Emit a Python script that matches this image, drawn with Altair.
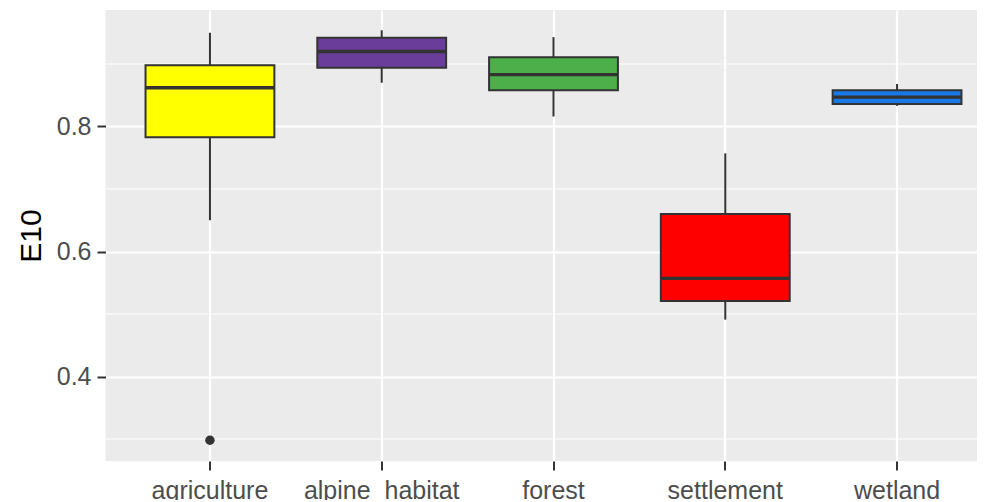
import altair as alt
import pandas as pd

# ---- data ----
categories = ["agriculture", "alpine_habitat", "forest", "settlement", "wetland"]
lower = [0.650, 0.870, 0.816, 0.491, 0.833]
q1 = [0.783, 0.894, 0.858, 0.521, 0.836]
median = [0.862, 0.920, 0.883, 0.557, 0.847]
q3 = [0.898, 0.942, 0.911, 0.660, 0.858]
upper = [0.950, 0.954, 0.943, 0.757, 0.868]
fill_colors = ["#FFFF00", "#6A3D9A", "#4DAF4A", "#FF0000", "#1A78E6"]

outlier_cat = ["agriculture"]
outlier_val = [0.298]

major_breaks = [0.4, 0.6, 0.8]
minor_breaks = [0.3, 0.5, 0.7, 0.9]

y_domain = [0.2648, 0.9864]

box_df = pd.DataFrame({
    "cat": categories, "lower": lower, "q1": q1, "median": median,
    "q3": q3, "upper": upper,
})
out_df = pd.DataFrame({"cat": outlier_cat, "val": outlier_val})
minor_df = pd.DataFrame({"v": minor_breaks})

W = 871.5
H = 451
FONT = "Liberation Sans"

x_scale = alt.Scale(domain=categories, range=[0, 896], paddingInner=0, paddingOuter=0.108)
x_axis = alt.Axis(title=None, bandPosition=0.5, labelPadding=8, tickSize=9, labelAngle=0)
x_enc = alt.X("cat:N", sort=categories, scale=x_scale, axis=x_axis)

y_scale = alt.Scale(domain=y_domain, nice=False, zero=False)
y_axis = alt.Axis(
    values=major_breaks, format=".1f", title="E10", tickSize=8.5, labelPadding=6,
    titlePadding=10, titleFontSize=30, titleColor="#000000", titleFontWeight="normal",
    titleFont=FONT,
)

# first layer carries the y axis
minor = alt.Chart(minor_df).mark_rule(color="#FFFFFF", strokeWidth=1.1).encode(
    y=alt.Y("v:Q", scale=y_scale, axis=y_axis)
)

base = alt.Chart(box_df)
color_enc = alt.Color("cat:N", scale=alt.Scale(domain=categories, range=fill_colors), legend=None)

whisk_hi = base.mark_rule(color="#333333", strokeWidth=2).encode(
    x=x_enc, y=alt.Y("q3:Q", scale=y_scale, axis=y_axis), y2="upper:Q"
)
whisk_lo = base.mark_rule(color="#333333", strokeWidth=2).encode(
    x=x_enc, y=alt.Y("lower:Q", scale=y_scale, axis=y_axis), y2="q1:Q"
)
boxes = base.mark_bar(
    width=alt.RelativeBandSize(0.75), stroke="#333333", strokeWidth=2
).encode(
    x=x_enc, y=alt.Y("q1:Q", scale=y_scale, axis=y_axis), y2="q3:Q", fill=color_enc
)
medians = base.mark_bar(
    width=alt.RelativeBandSize(0.75), stroke="#333333", strokeWidth=3.3, fill="#333333"
).encode(
    x=x_enc, y=alt.Y("median:Q", scale=y_scale, axis=y_axis), y2="median:Q"
)
outliers = alt.Chart(out_df).mark_circle(size=90, color="#333333", opacity=1).encode(
    x=x_enc, y=alt.Y("val:Q", scale=y_scale, axis=y_axis)
)

chart = alt.layer(minor, whisk_hi, whisk_lo, boxes, medians, outliers).properties(
    width=W,
    height=H,
    background="#FFFFFF",
    autosize=alt.AutoSizeParams(type="none"),
    padding={"left": 97.5, "top": 2, "right": 0, "bottom": 39},
).configure_view(
    fill="#EBEBEB", stroke=None
).configure_axis(
    domain=False,
    grid=True,
    gridColor="#FFFFFF",
    gridWidth=2.2,
    tickColor="#333333",
    tickWidth=2,
    labelColor="#4D4D4D",
    labelFont=FONT,
    labelFontSize=25,
    titleFont=FONT,
    titleFontSize=30,
    titleFontWeight="normal",
    titleColor="#000000",
)

chart.save("out.html", embed_options={"renderer": "svg", "actions": False})
